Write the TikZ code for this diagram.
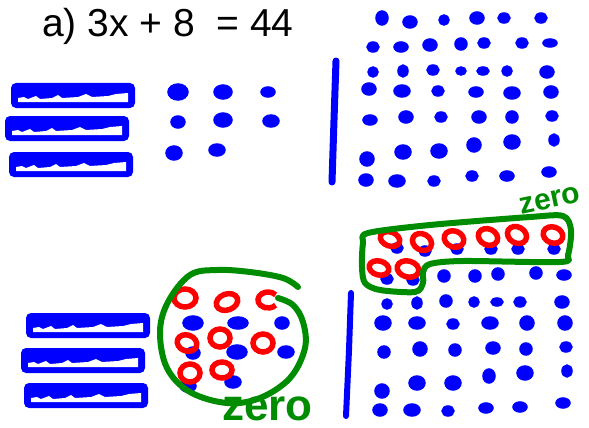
\documentclass[tikz,border=0pt]{standalone}
\usepackage{fontspec}
\setmainfont{Liberation Sans}
\usepackage{tikz}
\usepackage{xcolor}
\definecolor{penblue}{RGB}{0,0,255}
\definecolor{penred}{RGB}{255,0,0}
\definecolor{pengreen}{RGB}{0,140,0}

\begin{document}
\begin{tikzpicture}[x=1pt,y=-1pt,
  dot/.style={fill=penblue,draw=penblue,line width=1.5pt},
  ring/.style={draw=penred,line width=5.5pt},
  loop/.style={draw=pengreen,line width=6pt,line cap=round,line join=round},
  bar/.style={draw=penblue,line cap=round},
  xtile/.pic={
    \fill[penblue,rounded corners=5pt] (0,0) rectangle (124,25);
    \fill[white] (7,19) -- (7,15) -- (13,14) -- (17,16) -- (25,13) -- (29,16) -- (41,15) -- (47,12) -- (51,15) -- (67,14) -- (75,11) -- (81,14) -- (97,13) -- (105,11) -- (117,10) -- (117,19) -- cycle;
  }]
\useasboundingbox (0,0) rectangle (589,428);
\node[anchor=base west,inner sep=0pt,font=\fontsize{39}{39}\selectfont] (title) at (42,37) {a) 3x + 8~~= 44};
% top: 3 x-tiles and 8 units
\pic at (11,83) {xtile};
\pic at (5,116) {xtile};
\pic at (9,152) {xtile};
\fill[dot] (178,92) ellipse (10pt and 8pt);
\fill[dot] (223,92) ellipse (9pt and 7pt);
\fill[dot] (268,92) ellipse (7pt and 5pt);
\fill[dot] (178,122) ellipse (7pt and 6pt);
\fill[dot] (223,120) ellipse (9pt and 7pt);
\fill[dot] (271,121) ellipse (8pt and 6pt);
\fill[dot] (174,153) ellipse (8pt and 7pt);
\fill[dot] (217,150) ellipse (8pt and 6pt);
\draw[bar,line width=7pt] (336,61) -- (334,120) -- (332,182);
% top: 44 units
\fill[dot] (382,18) ellipse (6pt and 7pt);
\fill[dot] (410,22) ellipse (7pt and 6pt);
\fill[dot] (444,20) ellipse (5pt and 5pt);
\fill[dot] (477,18) ellipse (7pt and 6pt);
\fill[dot] (504,18) ellipse (6pt and 5pt);
\fill[dot] (541,18) ellipse (6pt and 5pt);
\fill[dot] (373,47) ellipse (6pt and 5pt);
\fill[dot] (401,47) ellipse (7pt and 5pt);
\fill[dot] (430,45) ellipse (7pt and 6pt);
\fill[dot] (461,44) ellipse (6pt and 6pt);
\fill[dot] (484,43) ellipse (6pt and 5pt);
\fill[dot] (522,43) ellipse (6pt and 5pt);
\fill[dot] (550,43) ellipse (7pt and 4pt);
\fill[dot] (373,72) ellipse (5pt and 5pt);
\fill[dot] (403,71) ellipse (5pt and 6pt);
\fill[dot] (433,70) ellipse (6pt and 5pt);
\fill[dot] (461,71) ellipse (5pt and 4pt);
\fill[dot] (483,71) ellipse (6pt and 4pt);
\fill[dot] (507,71) ellipse (5pt and 5pt);
\fill[dot] (547,72) ellipse (7pt and 6pt);
\fill[dot] (369,89) ellipse (7pt and 6pt);
\fill[dot] (402,91) ellipse (8pt and 6pt);
\fill[dot] (438,91) ellipse (6pt and 5pt);
\fill[dot] (476,92) ellipse (7pt and 5pt);
\fill[dot] (512,93) ellipse (8pt and 6pt);
\fill[dot] (551,92) ellipse (7pt and 6pt);
\fill[dot] (370,120) ellipse (7pt and 5pt);
\fill[dot] (406,117) ellipse (7pt and 6pt);
\fill[dot] (441,117) ellipse (6pt and 5pt);
\fill[dot] (479,117) ellipse (7pt and 6pt);
\fill[dot] (512,117) ellipse (6pt and 6pt);
\fill[dot] (552,116) ellipse (6pt and 5pt);
\fill[dot] (367,159) ellipse (7pt and 7pt);
\fill[dot] (403,152) ellipse (8pt and 7pt);
\fill[dot] (439,151) ellipse (8pt and 7pt);
\fill[dot] (474,145) ellipse (7pt and 7pt);
\fill[dot] (512,142) ellipse (8pt and 7pt);
\fill[dot] (554,140) ellipse (5pt and 6pt);
\fill[dot] (366,180) ellipse (7pt and 6pt);
\fill[dot] (397,181) ellipse (8pt and 6pt);
\fill[dot] (434,181) ellipse (6pt and 5pt);
\fill[dot] (472,176) ellipse (6pt and 5pt);
\fill[dot] (507,176) ellipse (7pt and 5pt);
\fill[dot] (549,172) ellipse (7pt and 5pt);
% bottom: 3 x-tiles, 8 units and 8 negatives
\pic at (26,313) {xtile};
\pic at (21,348) {xtile};
\pic at (24,383) {xtile};
\fill[dot] (193,323) ellipse (10pt and 7pt);
\fill[dot] (238,323) ellipse (10pt and 6pt);
\fill[dot] (282,323) ellipse (7pt and 6pt);
\fill[dot] (193,353) ellipse (7pt and 6pt);
\fill[dot] (237,352) ellipse (10pt and 7pt);
\fill[dot] (286,352) ellipse (8pt and 6pt);
\fill[dot] (188,386) ellipse (8pt and 6pt);
\fill[dot] (233,382) ellipse (8pt and 6pt);
\draw[ring] (185,298) ellipse (11pt and 9pt);
\draw[ring,rotate around={20:(227,302)}] (227,302) ellipse (11pt and 8pt);
\draw[ring] (268,300) ++(40:10pt and 8pt) arc[start angle=40,end angle=320,x radius=10pt,y radius=8pt];
\draw[ring,rotate around={-20:(187,343)}] (187,343) ellipse (10pt and 8pt);
\draw[ring] (220,338) ellipse (10pt and 9pt);
\draw[ring] (263,343) ellipse (10pt and 9pt);
\draw[ring] (190,373) ellipse (10pt and 9pt);
\draw[ring] (222,370) ellipse (10pt and 8pt);
\draw[loop] plot[smooth,tension=0.6] coordinates {(298,287) (283,278) (250,272) (217,270) (190,275) (168,302) (160,332) (167,368) (190,392) (227,403) (260,398) (290,378) (305,348) (303,322) (293,305) (278,298)};
\node[anchor=base west,inner sep=0pt,text=pengreen,font=\fontsize{44}{44}\selectfont\bfseries] (zeroA) at (222,420) {zero};
\draw[bar,line width=6pt] (351,293) -- (349,350) -- (346,416);
% bottom: 44 units
\fill[dot] (397,248) ellipse (6pt and 5pt);
\fill[dot] (425,251) ellipse (6pt and 5pt);
\fill[dot] (457,249) ellipse (6pt and 5pt);
\fill[dot] (491,249) ellipse (6pt and 5pt);
\fill[dot] (518,249) ellipse (6pt and 5pt);
\fill[dot] (554,249) ellipse (6pt and 5pt);
\fill[dot] (387,279) ellipse (6pt and 5pt);
\fill[dot] (413,280) ellipse (6pt and 5pt);
\fill[dot] (444,276) ellipse (6pt and 6pt);
\fill[dot] (475,276) ellipse (6pt and 6pt);
\fill[dot] (498,274) ellipse (6pt and 6pt);
\fill[dot] (536,273) ellipse (6pt and 6pt);
\fill[dot] (564,275) ellipse (7pt and 5pt);
\fill[dot] (387,304) ellipse (5pt and 5pt);
\fill[dot] (417,303) ellipse (5pt and 6pt);
\fill[dot] (446,301) ellipse (6pt and 6pt);
\fill[dot] (474,302) ellipse (5pt and 5pt);
\fill[dot] (497,302) ellipse (6pt and 4pt);
\fill[dot] (520,302) ellipse (6pt and 5pt);
\fill[dot] (562,302) ellipse (7pt and 6pt);
\fill[dot] (383,323) ellipse (8pt and 7pt);
\fill[dot] (417,323) ellipse (8pt and 6pt);
\fill[dot] (453,324) ellipse (6pt and 5pt);
\fill[dot] (490,323) ellipse (8pt and 6pt);
\fill[dot] (527,323) ellipse (7pt and 7pt);
\fill[dot] (565,323) ellipse (7pt and 7pt);
\fill[dot] (384,352) ellipse (6pt and 6pt);
\fill[dot] (420,349) ellipse (7pt and 7pt);
\fill[dot] (455,350) ellipse (6pt and 6pt);
\fill[dot] (493,348) ellipse (7pt and 6pt);
\fill[dot] (526,349) ellipse (6pt and 6pt);
\fill[dot] (566,347) ellipse (6pt and 5pt);
\fill[dot] (382,391) ellipse (7pt and 7pt);
\fill[dot] (417,383) ellipse (8pt and 7pt);
\fill[dot] (453,383) ellipse (8pt and 7pt);
\fill[dot] (489,376) ellipse (6pt and 7pt);
\fill[dot] (525,373) ellipse (8pt and 7pt);
\fill[dot] (567,371) ellipse (5pt and 6pt);
\fill[dot] (380,410) ellipse (7pt and 6pt);
\fill[dot] (412,410) ellipse (8pt and 6pt);
\fill[dot] (448,411) ellipse (6pt and 5pt);
\fill[dot] (486,408) ellipse (7pt and 5pt);
\fill[dot] (520,407) ellipse (7pt and 5pt);
\fill[dot] (563,403) ellipse (7pt and 5pt);
\draw[ring,rotate around={-20:(390,239)}] (390,239) ellipse (10pt and 7pt);
\draw[ring,rotate around={-30:(422,242)}] (422,242) ellipse (10pt and 8pt);
\draw[ring,rotate around={-20:(454,239)}] (454,239) ellipse (10pt and 8pt);
\draw[ring,rotate around={-25:(488,237)}] (488,237) ellipse (10pt and 8pt);
\draw[ring,rotate around={-30:(517,235)}] (517,235) ellipse (10pt and 8pt);
\draw[ring,rotate around={-20:(553,235)}] (553,235) ellipse (10pt and 8pt);
\draw[ring,rotate around={-15:(379,268)}] (379,268) ellipse (10pt and 7pt);
\draw[ring,rotate around={-15:(408,269)}] (408,269) ellipse (11pt and 8pt);
\draw[loop] plot[smooth cycle,tension=0.5] coordinates {(368,233) (430,225) (530,217) (563,216) (571,230) (568,255) (560,262) (463,261) (430,264) (423,272) (423,283) (415,292) (380,290) (365,283) (362,267) (363,243)};
\node[inner sep=0pt,text=pengreen,rotate=12,font=\fontsize{30}{30}\selectfont\bfseries] (zeroB) at (550,200) {zero};
\end{tikzpicture}
\end{document}
